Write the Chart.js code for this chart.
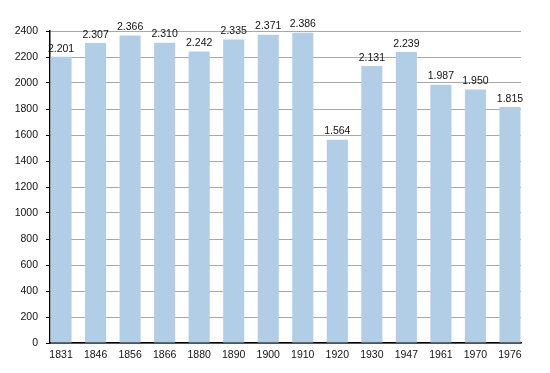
<!DOCTYPE html>
<html>
<head>
<meta charset="utf-8">
<script src="https://cdn.jsdelivr.net/npm/chart.js@4"></script>
<style>
  html, body { margin: 0; padding: 0; background: #fff; }
  #wrap { width: 550px; height: 373px; }
</style>
</head>
<body>
<div id="wrap"><canvas id="popChart" width="550" height="373"></canvas></div>
<script>
const years = ["1831", "1846", "1856", "1866", "1880", "1890", "1900", "1910", "1920", "1930", "1947", "1961", "1970", "1976"];
const population = [2201, 2307, 2366, 2310, 2242, 2335, 2371, 2386, 1564, 2131, 2239, 1987, 1950, 1815];
const yTicks = [0, 200, 400, 600, 800, 1000, 1200, 1400, 1600, 1800, 2000, 2200, 2400];

const font = { family: "'Liberation Sans', Arial, sans-serif", size: 10.5 };

// thousands separator as a dot, e.g. 2.201
function fmt(v) {
  return String(v).replace(/\B(?=(\d{3})+(?!\d))/g, ".");
}

const valueLabels = {
  id: "valueLabels",
  afterDatasetsDraw(chart) {
    const ctx = chart.ctx;
    const meta = chart.getDatasetMeta(0);
    ctx.save();
    ctx.font = font.size + "px " + font.family;
    ctx.fillStyle = "#111";
    ctx.textAlign = "center";
    ctx.textBaseline = "bottom";
    meta.data.forEach((bar, i) => {
      ctx.fillText(fmt(population[i]), bar.x, bar.y - 3);
    });
    ctx.restore();
  }
};

new Chart(document.getElementById("popChart").getContext("2d"), {
  type: "bar",
  data: {
    datasets: [{
      data: population.map((v, i) => ({ x: i, y: v })),
      backgroundColor: "#b2cde6",
      borderWidth: 0,
      categoryPercentage: 1,
      barPercentage: 0.61
    }]
  },
  options: {
    responsive: false,
    animation: false,
    devicePixelRatio: 1,
    layout: { padding: { top: 31, right: 29, bottom: 0, left: 0 } },
    plugins: { legend: { display: false }, tooltip: { enabled: false } },
    scales: {
      x: {
        type: "linear",
        min: -0.32,
        max: years.length - 1 + 0.32,
        offset: false,
        grid: { display: false, drawTicks: false },
        border: { color: "#000", width: 1.5 },
        ticks: {
          color: "#111",
          font: font,
          padding: 6,
          maxRotation: 0,
          autoSkip: false,
          callback: (v) => years[v] || ""
        },
        afterBuildTicks(scale) {
          scale.ticks = years.map((_, i) => ({ value: i }));
        },
        afterFit(scale) { scale.height = 30; }
      },
      y: {
        min: 0,
        max: 2400,
        border: { color: "#000", width: 1.5 },
        grid: {
          color: (c) => (c.tick && c.tick.value % 200 === 0 ? "#a8a8a8" : "#e2e2e2"),
          tickColor: "#000",
          tickLength: 4,
          lineWidth: 1
        },
        ticks: {
          stepSize: 100,
          color: "#111",
          font: font,
          padding: 8,
          callback: (v) => (yTicks.includes(v) ? String(v) : "")
        },
        afterFit(scale) { scale.width = 50; }
      }
    }
  },
  plugins: [valueLabels]
});
</script>
</body>
</html>
